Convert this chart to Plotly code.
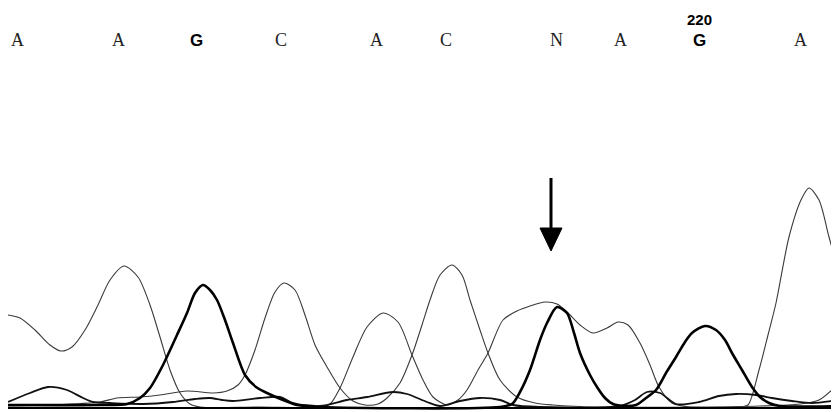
import plotly.graph_objects as go

# ---- data (x = scan position, y = signal intensity) ----
a_x = [8, 20, 35, 50, 61, 72, 85, 98, 110, 124, 138, 150, 160, 170, 180, 190, 200, 260, 320, 330, 340, 353, 367, 383,
       398, 412, 423, 433, 447, 458, 467, 478, 488, 503, 517, 530, 545, 557, 567, 580, 593, 607, 618, 628, 640, 650,
       659, 672, 690, 740, 748, 759, 768, 776, 789, 801, 809, 819, 829, 839]
a_y = [93, 90, 78, 63, 57, 61, 78, 103, 128, 142, 131, 103, 71, 38, 15, 4, 1, 1, 1, 4, 20, 51, 81, 95,
       86, 53, 28, 11, 3, 8, 18, 38, 55, 88, 97, 102, 106, 104, 96, 83, 75, 80, 86, 83, 65, 43,
       21, 5, 1, 1, 3, 38, 73, 105, 171, 208, 220, 208, 171, 135]

c_x = [8, 50, 100, 117, 140, 160, 187, 213, 227, 238, 245, 255, 265, 275, 284, 295, 305, 315, 327, 340, 353, 365,
       378, 387, 400, 412, 422, 430, 440, 452, 462, 470, 480, 488, 500, 517, 535, 553, 600, 700, 760, 800, 819, 839]
c_y = [2, 3, 6, 10, 11, 13, 17, 15, 17, 23, 33, 58, 90, 116, 125, 118, 93, 63, 41, 20, 7, 3,
       4, 10, 25, 53, 83, 108, 133, 143, 133, 108, 78, 55, 28, 11, 5, 3, 1, 1, 2, 4, 8, 25]

g_x = [8, 100, 127, 140, 150, 163, 177, 187, 195, 203, 210, 217, 225, 233, 245, 256, 267, 283, 297, 320, 500, 512,
       520, 530, 540, 547, 557, 567, 574, 580, 590, 597, 605, 613, 625, 636, 646, 656, 666, 676, 685, 692, 705,
       716, 725, 732, 742, 752, 760, 769, 780, 839]
g_y = [3, 3, 4, 10, 20, 43, 73, 95, 115, 123, 118, 108, 88, 65, 33, 21, 15, 8, 3, 1, 1, 4,
       16, 38, 68, 85, 101, 95, 75, 55, 33, 21, 10, 4, 2, 3, 10, 18, 35, 51, 66, 75, 82,
       78, 68, 55, 38, 21, 11, 5, 2, 2]

t_x = [8, 30, 48, 67, 83, 93, 110, 143, 173, 195, 210, 222, 233, 260, 280, 293, 320, 347, 367, 393, 407, 427, 440,
       460, 480, 500, 513, 540, 620, 635, 647, 660, 676, 699, 719, 736, 756, 772, 792, 812, 839]
t_y = [6, 15, 21, 18, 10, 6, 5, 4, 6, 9, 10, 8, 7, 10, 11, 5, 2, 8, 11, 16, 14, 6, 2,
       7, 10, 8, 3, 1, 2, 8, 16, 15, 4, 6, 12, 14, 13, 10, 7, 5, 8]

base_letters = ["A", "A", "G", "C", "A", "C", "N", "A", "G", "A"]
base_x = [17, 118, 196, 281, 376, 446, 556, 620, 699, 800]
position_label = "220"
position_index = 8
arrow_x = 551

fig = go.Figure()
traces = [
    ("A", a_x, a_y, "#3a3a3a", 1.1),
    ("C", c_x, c_y, "#3a3a3a", 1.1),
    ("T", t_x, t_y, "#111111", 1.8),
    ("G", g_x, g_y, "#000000", 2.6),
]
for name, xs, ys, col, w in traces:
    fig.add_trace(go.Scatter(x=xs, y=ys, mode="lines", name=name,
                             line=dict(color=col, width=w, shape="spline", smoothing=0.8),
                             hoverinfo="skip", showlegend=False))

# baseline
fig.add_trace(go.Scatter(x=[8, 839], y=[0, 0], mode="lines", line=dict(color="#000", width=2),
                         hoverinfo="skip", showlegend=False))

for i, (b, xx) in enumerate(zip(base_letters, base_x)):
    if b == "G":
        font = dict(family="Liberation Sans, Arial", size=17, color="#000")
        txt = "<b>G</b>"
    else:
        font = dict(family="Liberation Serif, DejaVu Serif", size=18, color="#222")
        txt = b
    fig.add_annotation(x=xx, y=368, text=txt, showarrow=False, font=font,
                       xanchor="center", yanchor="middle")
    if i == position_index:
        fig.add_annotation(x=xx, y=389, text="<b>" + position_label + "</b>", showarrow=False,
                           font=dict(family="Liberation Sans Narrow, Liberation Sans, Arial", size=15, color="#000"),
                           xanchor="center", yanchor="middle")

# arrow marking the heterozygous position
fig.add_shape(type="line", x0=arrow_x, x1=arrow_x, y0=230, y1=178, line=dict(color="#000", width=3))
fig.add_shape(type="path", path=f"M {arrow_x-11},180 L {arrow_x+11},180 L {arrow_x},157 Z",
              fillcolor="#000", line=dict(color="#000", width=1))

# the page body has an 8px margin, so the figure is 8px smaller and its ranges start 8 units in
fig.update_layout(width=831, height=404, margin=dict(l=0, r=0, t=0, b=0),
                  paper_bgcolor="white", plot_bgcolor="white")
fig.update_xaxes(range=[8, 839], visible=False, showgrid=False, zeroline=False)
fig.update_yaxes(range=[-4, 400], visible=False, showgrid=False, zeroline=False)
fig.write_html("out.html")
